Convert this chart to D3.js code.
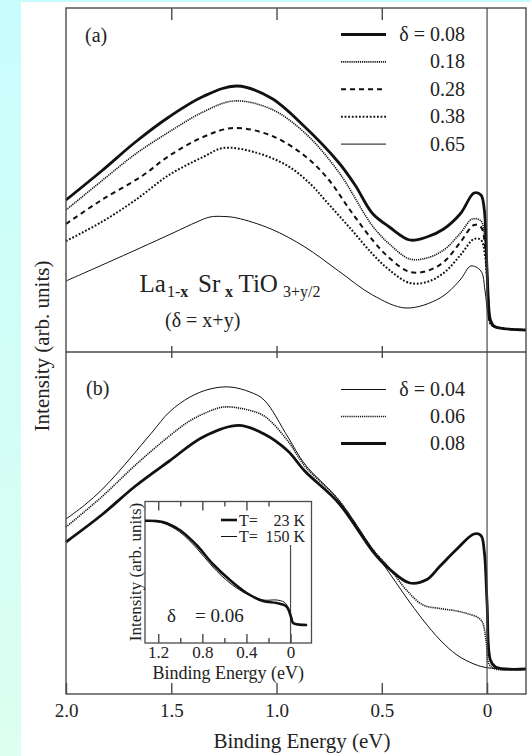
<!DOCTYPE html>
<meta charset="utf-8">
<script src="https://d3js.org/d3.v7.min.js"></script>
<style>
  body { margin: 0; background: #fff; }
</style>
<div id="chart"></div>
<script>
// tick values / labels
const mainTicks = [2.0, 1.5, 1.0, 0.5, 0];
const insetMajor = [1.2, 0.8, 0.4, 0];
const insetMinor = [1.0, 0.6, 0.2];

// panel (a): [binding energy eV, intensity arb.]
const deltaA = ["0.08", "0.18", "0.28", "0.38", "0.65"];
const a008 = [[2.000,1.29],[1.831,1.58],[1.670,1.87],[1.511,2.12],[1.349,2.325],[1.188,2.43],[1.026,2.31],[0.865,2.02],[0.705,1.665],[0.627,1.44],[0.544,1.155],[0.464,1.02],[0.367,0.89],[0.286,0.92],[0.206,1.00],[0.126,1.155],[0.062,1.36],[0.029,1.34],[0.013,1.19],[0.000,0.59],[-0.016,0.09],[-0.032,0.03],[-0.058,0.01],[-0.185,-0.01]];
const a018 = [[2.000,1.19],[1.831,1.48],[1.670,1.75],[1.511,1.97],[1.349,2.17],[1.204,2.28],[1.026,2.20],[0.865,1.96],[0.705,1.57],[0.544,1.03],[0.464,0.85],[0.367,0.70],[0.286,0.71],[0.206,0.79],[0.126,0.96],[0.071,1.10],[0.029,1.08],[0.010,0.89],[-0.005,0.39],[-0.016,0.07],[-0.043,0.02],[-0.185,-0.01]];
const a028 = [[2.000,1.05],[1.831,1.29],[1.639,1.53],[1.511,1.73],[1.349,1.92],[1.204,2.01],[1.026,1.935],[0.865,1.73],[0.753,1.495],[0.651,1.19],[0.544,0.89],[0.464,0.71],[0.367,0.57],[0.286,0.58],[0.206,0.67],[0.126,0.87],[0.062,1.04],[0.029,1.02],[0.010,0.84],[-0.005,0.34],[-0.016,0.06],[-0.043,0.02],[-0.185,-0.01]];
const a038 = [[2.000,0.88],[1.831,1.07],[1.670,1.29],[1.511,1.54],[1.349,1.72],[1.252,1.81],[1.107,1.77],[0.946,1.63],[0.834,1.44],[0.770,1.29],[0.651,1.01],[0.544,0.75],[0.464,0.59],[0.367,0.46],[0.286,0.47],[0.206,0.56],[0.126,0.74],[0.062,0.90],[0.029,0.89],[0.010,0.74],[-0.005,0.29],[-0.016,0.05],[-0.043,0.02],[-0.185,-0.01]];
const a065 = [[2.000,0.48],[1.807,0.66],[1.648,0.81],[1.492,0.96],[1.379,1.07],[1.316,1.12],[1.250,1.125],[1.188,1.11],[1.026,1.00],[0.865,0.82],[0.705,0.58],[0.544,0.34],[0.385,0.21],[0.223,0.31],[0.128,0.49],[0.077,0.63],[0.029,0.58],[0.010,0.39],[-0.005,0.14],[-0.024,0.03],[-0.043,0.01],[-0.185,-0.01]];

// panel (b)
const deltaB = ["0.04", "0.06", "0.08"];
const b004 = [[2.000,1.50],[1.911,1.64],[1.831,1.79],[1.751,1.97],[1.670,2.17],[1.590,2.37],[1.509,2.57],[1.411,2.72],[1.316,2.80],[1.221,2.82],[1.126,2.77],[1.059,2.69],[0.946,2.32],[0.866,2.05],[0.705,1.69],[0.544,1.20],[0.464,0.96],[0.385,0.72],[0.304,0.49],[0.223,0.29],[0.143,0.14],[0.062,0.05],[0.000,0.013],[-0.185,0.0]];
const b006 = [[2.000,1.42],[1.831,1.72],[1.670,2.04],[1.509,2.33],[1.413,2.48],[1.316,2.58],[1.252,2.62],[1.155,2.60],[1.059,2.53],[0.946,2.28],[0.866,2.03],[0.705,1.69],[0.544,1.20],[0.464,1.01],[0.383,0.79],[0.304,0.64],[0.223,0.605],[0.143,0.58],[0.095,0.555],[0.029,0.49],[0.005,0.29],[-0.009,0.05],[-0.038,0.0],[-0.185,0.0]];
const b008 = [[2.000,1.27],[1.831,1.54],[1.670,1.83],[1.509,2.08],[1.349,2.32],[1.180,2.436],[1.059,2.35],[0.946,2.18],[0.866,1.98],[0.705,1.66],[0.544,1.18],[0.464,1.00],[0.367,0.86],[0.286,0.895],[0.223,1.03],[0.143,1.20],[0.062,1.35],[0.029,1.335],[0.013,1.17],[0.000,0.66],[-0.016,0.09],[-0.040,0.02],[-0.185,0.0]];

// inset, delta = 0.06
const tempLabels = ["23 K", "150 K"];
const in23 = [[1.32,1.043],[1.159,1.03],[1.005,0.95],[0.853,0.80],[0.705,0.61],[0.55,0.45],[0.398,0.32],[0.25,0.24],[0.125,0.22],[0.035,0.183],[-0.007,0.07],[-0.023,0.02],[-0.15,0.0]];
const in150 = [[1.32,1.04],[1.159,1.02],[1.005,0.93],[0.853,0.77],[0.705,0.58],[0.55,0.42],[0.398,0.31],[0.25,0.25],[0.125,0.25],[0.06,0.23],[0.035,0.20],[-0.007,0.08],[-0.023,0.025],[-0.15,0.0]];

const W = 531, H = 756;
const svg = d3.select("#chart").append("svg").attr("width", W).attr("height", H);

// page background
const grad = svg.append("defs").append("linearGradient")
  .attr("id", "bg").attr("x1", 0).attr("y1", 0).attr("x2", 0).attr("y2", 1);
grad.append("stop").attr("offset", "0%").attr("stop-color", "#c8fdfd");
grad.append("stop").attr("offset", "100%").attr("stop-color", "#dcfff0");
svg.append("rect").attr("width", W).attr("height", H).attr("fill", "url(#bg)");
svg.append("rect").attr("x", 21).attr("y", 2).attr("width", W - 21).attr("height", H - 2).attr("fill", "#fff");

const L = 66, R = 526, T = 8, M = 352, B = 694;
const x = d3.scaleLinear().domain([2.0, -0.185]).range([L, R]);
const yA = d3.scaleLinear().domain([-0.23, 3.21]).range([M, T]);
const yB = d3.scaleLinear().domain([-0.25, 3.17]).range([B, M]);

const frameColor = "#4a4a4a";

// curves
const styles = {
  thick: {w: 2.8, dash: null},
  fine:  {w: 1.6, dash: "1.2 0.9"},
  dash:  {w: 2,   dash: "5 4"},
  dot:   {w: 2,   dash: "1.8 1.8"},
  thin:  {w: 1,   dash: null}
};
const seriesA = [[a008, "thick"], [a018, "fine"], [a028, "dash"], [a038, "dot"], [a065, "thin"]];
const seriesB = [[b004, "thin"], [b006, "fine"], [b008, "thick"]];

function drawCurves(data, ys) {
  const line = d3.line().x(d => x(d[0])).y(d => ys(d[1])).curve(d3.curveCatmullRom.alpha(0.5));
  svg.append("g").selectAll("path").data(data).join("path")
    .attr("d", d => line(d[0]))
    .attr("fill", "none")
    .attr("stroke", "#111")
    .attr("stroke-width", d => styles[d[1]].w)
    .attr("stroke-dasharray", d => styles[d[1]].dash)
    .attr("stroke-linejoin", "round");
}
drawCurves(seriesA, yA);
drawCurves(seriesB, yB);

// frame + Fermi level line
svg.append("rect").attr("x", L).attr("y", T).attr("width", R - L).attr("height", B - T)
  .attr("fill", "none").attr("stroke", frameColor).attr("stroke-width", 1.4);
svg.append("line").attr("x1", L).attr("x2", R).attr("y1", M).attr("y2", M)
  .attr("stroke", frameColor).attr("stroke-width", 1.4);
svg.append("line").attr("x1", x(0)).attr("x2", x(0)).attr("y1", T).attr("y2", B)
  .attr("stroke", frameColor).attr("stroke-width", 1.2);

// axes
function styleAxis(g) {
  g.select(".domain").remove();
  g.selectAll(".tick line").attr("stroke", frameColor).attr("stroke-width", 1.4);
}
const inner = [1.5, 1.0, 0.5];
svg.append("g").attr("transform", `translate(0,${T})`)
  .call(d3.axisBottom(x).tickValues(inner).tickSize(12).tickFormat("")).call(styleAxis);
svg.append("g").attr("transform", `translate(0,${M})`)
  .call(d3.axisTop(x).tickValues(inner).tickSize(6).tickFormat("")).call(styleAxis);
svg.append("g").attr("transform", `translate(0,${M})`)
  .call(d3.axisBottom(x).tickValues(inner).tickSize(6).tickFormat("")).call(styleAxis);
svg.append("g").attr("transform", `translate(0,${B})`)
  .call(d3.axisBottom(x).tickValues(mainTicks).tickSize(-11).tickPadding(10)
    .tickFormat(d => d === 0 ? "0" : d3.format(".1f")(d)))
  .call(styleAxis)
  .call(g => g.selectAll("text").attr("font-size", 19));

svg.append("text").attr("x", 302).attr("y", 748).attr("text-anchor", "middle")
  .attr("font-size", 21).text("Binding Energy (eV)");
svg.append("text").attr("transform", "translate(49,346) rotate(-90)").attr("text-anchor", "middle")
  .attr("font-size", 21).text("Intensity (arb. units)");

// panel labels
svg.append("text").attr("x", 85).attr("y", 42).attr("font-size", 20).text("(a)");
svg.append("text").attr("x", 86).attr("y", 395).attr("font-size", 20).text("(b)");

// legends
function legend(items, y0, step, ids) {
  items.forEach((lab, i) => {
    const y = y0 + i * step;
    const s = styles[ids[i]];
    svg.append("line").attr("x1", 341).attr("x2", 386).attr("y1", y).attr("y2", y)
      .attr("stroke", "#111").attr("stroke-width", s.w).attr("stroke-dasharray", s.dash);
    svg.append("text").attr("x", 465).attr("y", y + 6.5).attr("text-anchor", "end")
      .attr("font-size", 20).text(i === 0 ? "\u03b4 = " + lab : lab);
  });
}
legend(deltaA, 34.5, 27.4, seriesA.map(d => d[1]));
legend(deltaB, 389.5, 27, seriesB.map(d => d[1]));

// formula
const f = svg.append("text").attr("y", 292).attr("font-size", 25);
f.append("tspan").attr("x", 139.5).text("La");
f.append("tspan").attr("x", 167).attr("dy", 5).attr("font-size", 16).text("1-");
f.append("tspan").attr("font-size", 16).attr("font-weight", "bold").text("x");
f.append("tspan").attr("x", 198).attr("dy", -5).text("Sr");
f.append("tspan").attr("x", 225).attr("dy", 5).attr("font-size", 16).attr("font-weight", "bold").text("x");
f.append("tspan").attr("x", 238.5).attr("dy", -5).text("TiO");
f.append("tspan").attr("x", 283).attr("dy", 5).attr("font-size", 16).text("3+y/2");
svg.append("text").attr("x", 165).attr("y", 327).attr("font-size", 20).text("(\u03b4 = x+y)");

// inset
const iL = 145, iR = 311.5, iT = 501.5, iB = 643;
const xIn = d3.scaleLinear().domain([1.32, -0.19]).range([iL, iR]);
const yIn = d3.scaleLinear().domain([-0.18, 1.235]).range([iB, iT]);
svg.append("rect").attr("x", iL).attr("y", iT).attr("width", iR - iL).attr("height", iB - iT)
  .attr("fill", "#fff").attr("stroke", frameColor).attr("stroke-width", 1.3);
svg.append("line").attr("x1", xIn(0)).attr("x2", xIn(0)).attr("y1", 545).attr("y2", iB)
  .attr("stroke", frameColor).attr("stroke-width", 1.2);
const inLine = d3.line().x(d => xIn(d[0])).y(d => yIn(d[1])).curve(d3.curveCatmullRom.alpha(0.5));
svg.append("g").selectAll("path").data([[in150, 1], [in23, 2.6]]).join("path")
  .attr("d", d => inLine(d[0])).attr("fill", "none").attr("stroke", "#111")
  .attr("stroke-width", d => d[1]);

svg.append("g").attr("transform", `translate(0,${iB})`)
  .call(d3.axisBottom(xIn).tickValues(insetMajor).tickSize(-9).tickPadding(3)
    .tickFormat(d => d === 0 ? "0" : d3.format(".1f")(d)))
  .call(styleAxis)
  .call(g => g.selectAll("text").attr("font-size", 17));
svg.append("g").attr("transform", `translate(0,${iB})`)
  .call(d3.axisBottom(xIn).tickValues(insetMinor).tickSize(-5).tickFormat("")).call(styleAxis);
svg.append("g").attr("transform", `translate(0,${iT})`)
  .call(d3.axisTop(xIn).tickValues(insetMajor.slice(0, 3)).tickSize(-9).tickFormat("")).call(styleAxis);
svg.append("g").attr("transform", `translate(0,${iT})`)
  .call(d3.axisTop(xIn).tickValues(insetMinor).tickSize(-5).tickFormat("")).call(styleAxis);

svg.append("text").attr("x", (iL + iR) / 2).attr("y", 679).attr("text-anchor", "middle")
  .attr("font-size", 18).text("Binding Energy (eV)");
svg.append("text").attr("transform", `translate(141,572) rotate(-90)`).attr("text-anchor", "middle")
  .attr("font-size", 17).text("Intensity (arb. units)");

// inset legend
[[520, 2.6], [536.5, 1]].forEach((r, i) => {
  svg.append("line").attr("x1", 221).attr("x2", 237).attr("y1", r[0]).attr("y2", r[0])
    .attr("stroke", "#111").attr("stroke-width", r[1]);
  svg.append("text").attr("x", 239).attr("y", r[0] + 5.5).attr("font-size", 16).text("T=");
  svg.append("text").attr("x", 305).attr("y", r[0] + 5.5).attr("text-anchor", "end")
    .attr("font-size", 16).text(tempLabels[i]);
});
svg.append("text").attr("x", 167).attr("y", 622).attr("font-size", 19).text("\u03b4");
svg.append("text").attr("x", 195).attr("y", 622).attr("font-size", 19).text("= 0.06");

// serif font on every text (Times-like)
svg.selectAll("text").style("font-family", "Liberation Serif").style("fill", "#222");
</script>
